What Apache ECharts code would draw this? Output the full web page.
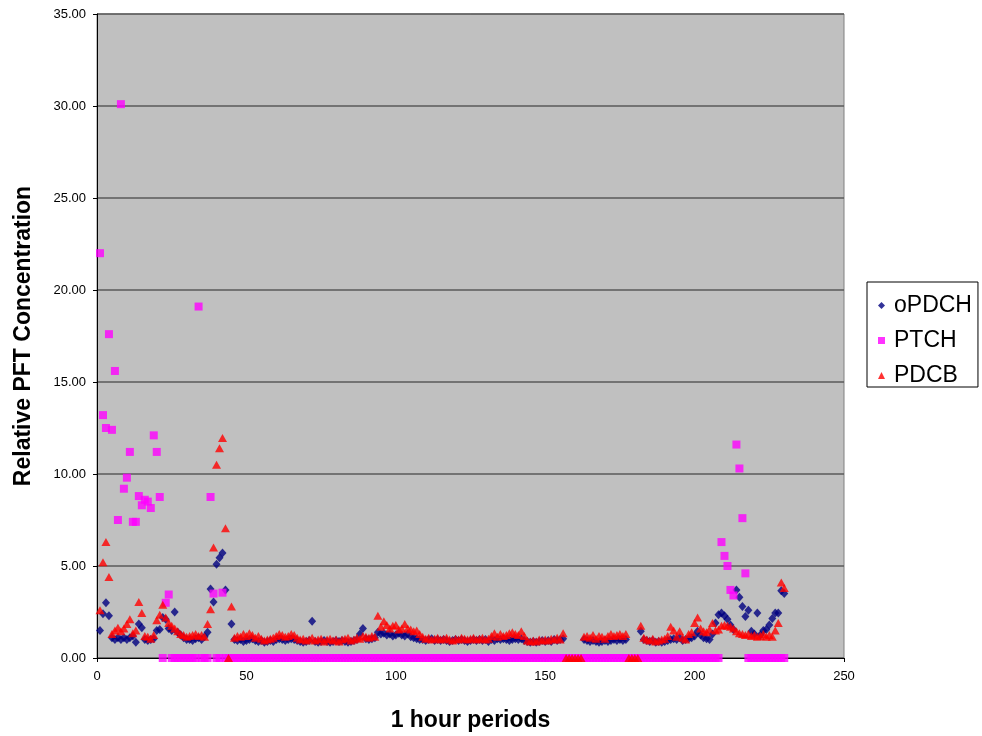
<!DOCTYPE html>
<html>
<head>
<meta charset="utf-8">
<script src="https://cdn.jsdelivr.net/npm/echarts@6/dist/echarts.min.js"></script>
<style>
  html, body { margin: 0; padding: 0; background: #fff; }
  #chart { width: 982px; height: 736px; }
</style>
</head>
<body>
<div id="chart"></div>
<script>
// hourly readings, hour 1 .. 230 (null = no reading)
const oPDCH = [
  1.5, 2.4, 3.0, 2.3, 1.1, 1.0, 1.1, 1.0, 1.1, 1.0,
  1.1, 1.2, 0.85, 1.85, 1.65, 1.0, 0.95, 1.0, 1.05, 1.5,
  1.55, 2.2, 2.1, 1.6, 1.5, 2.5, 1.4, 1.25, 1.1, 1.0,
  1.0, 0.95, 1.05, 1.1, 1.0, 1.15, 1.4, 3.75, 3.05, 5.1,
  5.45, 5.7, 3.7, null, 1.85, 1.0, 0.95, 1.0, 0.9, 0.95,
  1.0, 1.05, 0.95, 0.9, 0.95, 0.85, 0.9, 0.95, 0.9, 1.0,
  1.05, 1.0, 0.95, 1.0, 1.05, 1.0, 0.95, 0.9, 0.85, 0.9,
  0.95, 2.0, 0.9, 0.85, 0.9, 0.95, 0.9, 0.85, 0.9, 0.95,
  0.9, 0.95, 0.9, 0.85, 0.9, 0.95, 1.0, 1.3, 1.6, 1.05,
  1.0, 1.05, 1.1, 1.4, 1.3, 1.35, 1.25, 1.3, 1.2, 1.25,
  1.35, 1.25, 1.2, 1.3, 1.15, 1.1, 1.05, 1.0, 1.0, 0.95,
  1.0, 1.05, 0.95, 1.0, 0.95, 1.0, 0.95, 0.9, 0.95, 1.0,
  0.95, 1.0, 0.95, 0.9, 0.95, 1.0, 0.95, 1.0, 0.95, 1.0,
  0.9, 1.0, 0.95, 1.05, 1.0, 1.05, 1.0, 0.95, 1.0, 1.05,
  1.0, 1.05, 0.95, 0.9, 0.85, 0.9, 0.85, 0.9, 0.95, 0.9,
  0.95, 0.9, 1.0, 0.95, 1.0, 1.05, null, null, null, null,
  null, null, 1.0, 0.95, 0.9, 0.95, 0.9, 0.85, 0.9, 0.95,
  0.9, 0.95, 1.0, 0.95, 1.0, 0.95, 1.0, null, null, null,
  null, 1.45, 1.0, 0.95, 0.9, 0.95, 0.85, 0.9, 0.85, 0.9,
  0.95, 1.0, 1.05, 1.0, 1.1, 0.95, 1.0, 1.05, 1.1, 1.2,
  1.45, 1.25, 1.1, 1.05, 1.0, 1.3, 1.9, 2.35, 2.45, 2.3,
  2.1, 1.8, 1.55, 3.7, 3.3, 2.8, 2.25, 2.6, 1.45, 1.3,
  2.45, 1.25, 1.5, 1.55, 1.8, 2.15, 2.45, 2.45, 3.65, 3.5
];

const PTCH = [
  22.0, 13.2, 12.5, 17.6, 12.4, 15.6, 7.5, 30.1, 9.2, 9.8,
  11.2, 7.4, 7.4, 8.8, 8.3, 8.6, 8.5, 8.15, 12.1, 11.2,
  8.75, 0, 3.0, 3.45, 0, 0, 0, 0, 0, 0,
  0, 0, 0, 19.1, 0, 0, 0, 8.75, 3.5, 0,
  0, 3.55, 0, 0, 0, 0, 0, 0, 0, 0,
  0, 0, 0, 0, 0, 0, 0, 0, 0, 0,
  0, 0, 0, 0, 0, 0, 0, 0, 0, 0,
  0, 0, 0, 0, 0, 0, 0, 0, 0, 0,
  0, 0, 0, 0, 0, 0, 0, 0, 0, 0,
  0, 0, 0, 0, 0, 0, 0, 0, 0, 0,
  0, 0, 0, 0, 0, 0, 0, 0, 0, 0,
  0, 0, 0, 0, 0, 0, 0, 0, 0, 0,
  0, 0, 0, 0, 0, 0, 0, 0, 0, 0,
  0, 0, 0, 0, 0, 0, 0, 0, 0, 0,
  0, 0, 0, 0, 0, 0, 0, 0, 0, 0,
  0, 0, 0, 0, 0, 0, 0, 0, 0, 0,
  0, 0, 0, 0, 0, 0, 0, 0, 0, 0,
  0, 0, 0, 0, 0, 0, 0, 0, 0, 0,
  0, 0, 0, 0, 0, 0, 0, 0, 0, 0,
  0, 0, 0, 0, 0, 0, 0, 0, 0, 0,
  0, 0, 0, 0, 0, 0, 0, 0, 6.3, 5.55,
  5.0, 3.7, 3.4, 11.6, 10.3, 7.6, 4.6, 0, 0, 0,
  0, 0, 0, 0, 0, 0, 0, 0, 0, 0
];

const PDCB = [
  2.6, 5.2, 6.3, 4.4, 1.3, 1.5, 1.65, 1.45, 1.6, 1.85,
  2.1, 1.35, 1.5, 3.05, 2.45, 1.2, 1.15, 1.05, 1.25, 2.05,
  2.35, 2.9, 2.2, 1.9, 1.75, 1.6, 1.45, 1.3, 1.25, 1.15,
  1.2, 1.25, 1.3, 1.2, 1.25, 1.15, 1.85, 2.65, 6.0, 10.5,
  11.4, 11.95, 7.05, 0, 2.8, 1.1, 1.2, 1.15, 1.3, 1.2,
  1.35, 1.25, 1.1, 1.2, 1.05, 0.95, 1.0, 1.05, 1.1, 1.2,
  1.3, 1.25, 1.15, 1.2, 1.3, 1.25, 1.1, 1.0, 1.05, 0.95,
  1.0, 1.1, 0.95, 1.0, 1.05, 0.9, 1.0, 1.05, 0.95, 1.0,
  0.9, 1.0, 1.05, 1.1, 0.95, 1.0, 1.1, 1.05, 1.2, 1.15,
  1.1, 1.2, 1.15, 2.3, 1.7, 2.0, 1.8, 1.6, 1.75, 1.8,
  1.55, 1.6, 1.85, 1.6, 1.55, 1.45, 1.5, 1.3, 1.15, 1.05,
  1.1, 1.0, 1.05, 1.1, 1.0, 1.05, 1.1, 1.0, 0.95, 1.05,
  1.0, 1.1, 1.05, 1.0, 1.05, 1.1, 1.0, 1.05, 1.1, 1.0,
  1.05, 1.2, 1.35, 1.15, 1.3, 1.2, 1.25, 1.35, 1.4, 1.3,
  1.25, 1.45, 1.2, 0.95, 0.9, 0.95, 0.9, 1.0, 0.95, 1.0,
  0.95, 1.05, 1.0, 1.1, 1.0, 1.35, 0, 0, 0, 0,
  0, 0, 1.15, 1.2, 1.1, 1.25, 1.05, 1.2, 1.15, 1.05,
  1.2, 1.3, 1.2, 1.25, 1.3, 1.2, 1.3, 0, 0, 0,
  0, 1.75, 1.1, 1.0, 0.95, 1.05, 0.9, 0.95, 1.0, 1.05,
  1.2, 1.7, 1.5, 1.15, 1.45, 1.1, 1.0, 1.3, 1.4, 1.9,
  2.2, 1.6, 1.45, 1.4, 1.55, 1.9, 1.5, 1.55, 1.75, 1.8,
  1.75, 1.7, 1.6, 1.45, 1.35, 1.3, 1.25, 1.3, 1.2, 1.25,
  1.15, 1.2, 1.3, 1.15, 1.25, 1.15, 1.5, 1.9, 4.1, 3.8
];

const hours = oPDCH.map((v, i) => i + 1);
const yTicks = [0, 5, 10, 15, 20, 25, 30, 35];
const xTicks = [0, 50, 100, 150, 200, 250];

const FONT = '"Liberation Sans", Arial, sans-serif';

// pair every hour with its value, skip missing readings
function pairs(values) {
    return hours
        .map((h, i) => [h, values[i]])
        .filter((p) => p[1] !== null);
}

const chart = echarts.init(document.getElementById('chart'), null, { renderer: 'canvas' });
chart.setOption({
    animation: false,
    backgroundColor: '#ffffff',
    textStyle: { fontFamily: FONT, color: '#000' },
    grid: {
        left: 97,
        top: 14,
        right: 138,
        bottom: 78,
        outerBoundsMode: 'none',
        show: true,
        backgroundColor: '#c0c0c0',
        borderColor: '#808080',
        borderWidth: 1,
    },
    legend: {
        orient: 'vertical',
        left: 867,
        top: 282,
        padding: [12, 6, 0, 11],
        itemGap: 12,
        itemWidth: 7,
        itemHeight: 7,
        borderColor: '#000',
        borderWidth: 1,
        backgroundColor: '#fff',
        textStyle: { fontSize: 23, fontFamily: FONT, color: '#000', padding: [0, 0, 0, 4] },
        data: ['oPDCH', 'PTCH', 'PDCB'],
    },
    xAxis: {
        type: 'value',
        min: xTicks[0],
        max: xTicks[xTicks.length - 1],
        interval: 50,
        name: '1 hour periods',
        nameLocation: 'middle',
        nameGap: 51,
        nameTextStyle: { fontSize: 23, fontWeight: 'bold', fontFamily: FONT, color: '#000' },
        axisLine: { show: true, onZero: false, lineStyle: { color: '#000', width: 1 } },
        axisTick: { show: true, length: 4, lineStyle: { color: '#000' } },
        axisLabel: { fontSize: 13, color: '#000', margin: 12, fontFamily: FONT },
        splitLine: { show: false },
    },
    yAxis: {
        type: 'value',
        min: yTicks[0],
        max: yTicks[yTicks.length - 1],
        interval: 5,
        name: 'Relative PFT Concentration',
        nameLocation: 'middle',
        nameGap: 62,
        nameTextStyle: { fontSize: 23, fontWeight: 'bold', fontFamily: FONT, color: '#000' },
        axisLine: { show: true, lineStyle: { color: '#000', width: 1 } },
        axisTick: { show: true, length: 4, lineStyle: { color: '#000' } },
        axisLabel: {
            fontSize: 13,
            color: '#000',
            margin: 11,
            fontFamily: FONT,
            formatter: (v) => v.toFixed(2),
        },
        splitLine: { show: true, lineStyle: { color: '#5a5a5a', width: 1.5 } },
    },
    series: [
        {
            name: 'oPDCH',
            type: 'scatter',
            symbol: 'diamond',
            symbolSize: [8, 9],
            clip: false,
            itemStyle: { color: '#000080' },
            data: pairs(oPDCH),
        },
        {
            name: 'PTCH',
            type: 'scatter',
            symbol: 'rect',
            symbolSize: 8,
            clip: false,
            itemStyle: { color: '#ff00ff' },
            data: pairs(PTCH),
        },
        {
            name: 'PDCB',
            type: 'scatter',
            symbol: 'triangle',
            symbolSize: [9, 8],
            clip: false,
            itemStyle: { color: '#ff0000' },
            data: pairs(PDCB),
        },
    ],
});
</script>
</body>
</html>
